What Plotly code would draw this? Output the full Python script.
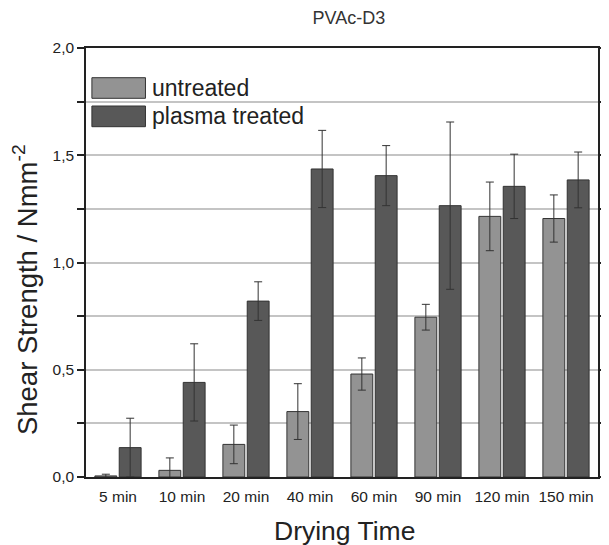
import plotly.graph_objects as go

categories = ["5 min", "10 min", "20 min", "40 min", "60 min", "90 min", "120 min", "150 min"]
untreated = [0.005, 0.031, 0.152, 0.305, 0.48, 0.745, 1.215, 1.205]
untreated_err = [0.008, 0.058, 0.09, 0.13, 0.075, 0.06, 0.16, 0.11]
plasma = [0.137, 0.441, 0.82, 1.436, 1.405, 1.265, 1.355, 1.385]
plasma_err = [0.137, 0.18, 0.09, 0.18, 0.14, 0.39, 0.15, 0.13]
y_ticks = [0, 0.25, 0.5, 0.75, 1.0, 1.25, 1.5, 1.75, 2.0]
y_ticktext = ["0,0", "", "0,5", "", "1,0", "", "1,5", "", "2,0"]

FONT = "Liberation Sans, Arial, sans-serif"
C_UN = "#939393"
C_PL = "#585858"
EDGE = "#333333"

# plot area in page pixels (page has an 8px body margin)
PX0, PX1, PY0, PY1 = 86, 607, 48, 477
PW, PH = PX1 - PX0, PY1 - PY0

def px(x):
    return (x - PX0) / PW

def py(y):
    return (PY1 - y) / PH

fig = go.Figure()
fig.add_trace(go.Bar(
    x=categories, y=untreated, name="untreated",
    marker=dict(color=C_UN, line=dict(color=EDGE, width=1)),
    error_y=dict(type="data", array=untreated_err, color=EDGE, thickness=1, width=4),
))
fig.add_trace(go.Bar(
    x=categories, y=plasma, name="plasma treated",
    marker=dict(color=C_PL, line=dict(color=EDGE, width=1)),
    error_y=dict(type="data", array=plasma_err, color=EDGE, thickness=1, width=4),
))

fig.update_layout(
    width=601, height=537,
    margin=dict(l=78, r=2, t=40, b=68),
    plot_bgcolor="white", paper_bgcolor="white",
    barmode="group", bargap=0.24, bargroupgap=0.1,
    showlegend=False,
    font=dict(family=FONT, color="#222222"),
    title=dict(text="PVAc-D3", x=px(353.5), xref="paper", xanchor="center",
               y=1 - 10 / 537, yref="container", yanchor="middle",
               font=dict(family=FONT, size=18, color="#333333")),
)
fig.update_xaxes(
    showline=True, linecolor="#222222", linewidth=2, mirror=True,
    ticks="", tickfont=dict(family=FONT, size=15.5, color="#222222"),
    ticklabelstandoff=4,
    showgrid=False,
)
fig.update_yaxes(
    range=[0, 2], tickvals=y_ticks, ticktext=y_ticktext,
    showline=True, linecolor="#222222", linewidth=1.5, mirror="ticks",
    ticks="outside", ticklen=7, tickwidth=1.5, tickcolor="#222222",
    tickfont=dict(family=FONT, size=15.5, color="#222222"),
    showgrid=True, gridcolor="#c4c4c4", gridwidth=1.5,
    zeroline=False,
)

# axis titles
fig.add_annotation(text="Shear Strength / Nmm<sup>-2</sup>", xref="paper", yref="paper",
                   x=px(24), y=py(290), textangle=-90, showarrow=False,
                   xanchor="center", yanchor="middle",
                   font=dict(family=FONT, size=27.5, color="#222222"))
fig.add_annotation(text="Drying Time", xref="paper", yref="paper",
                   x=px(349), y=py(531), showarrow=False,
                   xanchor="center", yanchor="middle",
                   font=dict(family=FONT, size=26.5, color="#222222"))

# legend drawn manually
legend_items = [("untreated", C_UN, 77.7, 98.3), ("plasma treated", C_PL, 106, 126.7)]
for label, col, ytop, ybot in legend_items:
    fig.add_shape(type="rect", xref="paper", yref="paper",
                  x0=px(92), x1=px(146.5), y0=py(ybot), y1=py(ytop),
                  fillcolor=col, line=dict(color=EDGE, width=1), layer="above")
    fig.add_annotation(text=label, xref="paper", yref="paper",
                       x=px(151), y=py((ytop + ybot) / 2),
                       xanchor="left", yanchor="middle", showarrow=False,
                       font=dict(family=FONT, size=23, color="#222222"))

fig.write_html("out.html")
